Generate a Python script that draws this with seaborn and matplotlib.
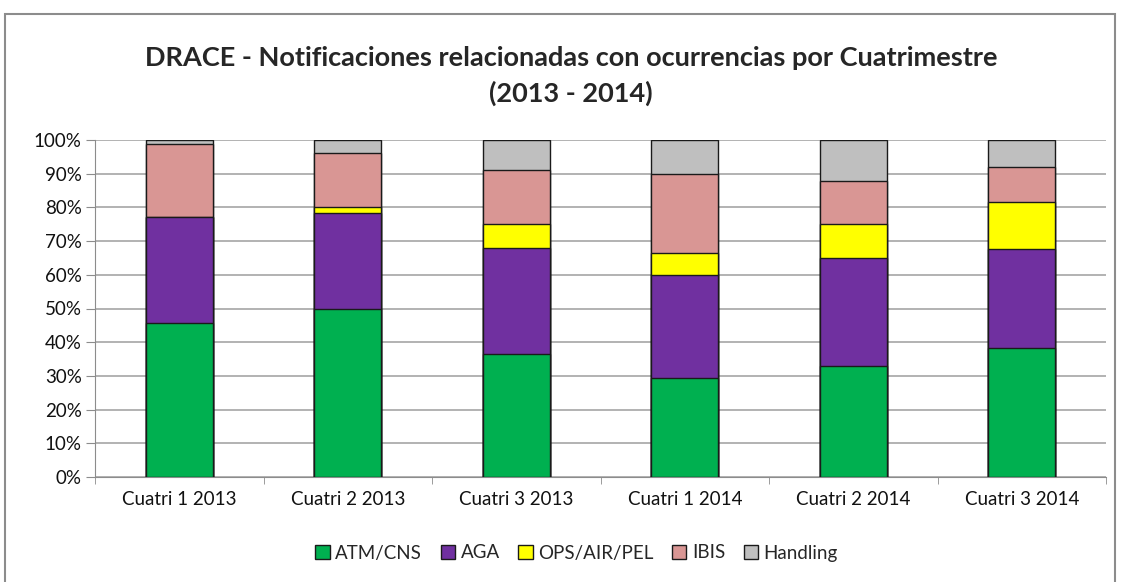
import numpy as np
import pandas as pd
import seaborn as sns
import matplotlib.pyplot as plt
from matplotlib.patches import Rectangle, Patch
from matplotlib.ticker import PercentFormatter, FixedLocator

periods = ["Cuatri 1 2013", "Cuatri 2 2013", "Cuatri 3 2013",
           "Cuatri 1 2014", "Cuatri 2 2014", "Cuatri 3 2014"]
series = ["ATM/CNS", "AGA", "OPS/AIR/PEL", "IBIS", "Handling"]

# share (%) of each category per period
atm_cns = [45.7, 49.8, 36.4, 29.3, 33.0, 38.4]
aga = [31.4, 28.4, 31.6, 30.6, 32.1, 29.3]
ops_air_pel = [0.0, 1.9, 7.2, 6.6, 10.1, 13.8]
ibis = [21.6, 16.0, 16.0, 23.5, 12.5, 10.5]
handling = [1.3, 3.9, 8.8, 10.0, 12.3, 8.0]

colors = ["#00B050", "#7030A0", "#FFFF00", "#D99694", "#BFBFBF"]

df = pd.DataFrame({"Periodo": periods, "ATM/CNS": atm_cns, "AGA": aga,
                   "OPS/AIR/PEL": ops_air_pel, "IBIS": ibis, "Handling": handling})
cum = df[series].cumsum(axis=1)
cum["Periodo"] = df["Periodo"]

sns.set_style("white")
plt.rcParams["font.family"] = ["Lato", "DejaVu Sans"]

fig = plt.figure(figsize=(11.22, 5.82), dpi=100)
ax = fig.add_axes([95 / 1122, 1 - 477 / 582, (1106 - 95) / 1122, (477 - 140) / 582])

# draw from the top of the stack down so lower segments overlay
for s, c in reversed(list(zip(series, colors))):
    sns.barplot(data=cum, x="Periodo", y=s, color=c, width=0.4,
                edgecolor="#1a1a1a", linewidth=1.0, saturation=1, ax=ax, zorder=3)

ax.set_ylim(0, 100)
ax.set_xlim(-0.5, 5.5)
ax.set_yticks(np.arange(0, 101, 10))
ax.yaxis.set_major_formatter(PercentFormatter(decimals=0))
ax.yaxis.grid(True, color="#a6a6a6", linewidth=1.2, zorder=0)
ax.set_axisbelow(True)
ax.set_xlabel("")
ax.set_ylabel("")
for sp in ["top", "right"]:
    ax.spines[sp].set_visible(False)
ax.spines["left"].set_color("#8c8c8c")
ax.spines["bottom"].set_color("#8c8c8c")
ax.tick_params(axis="y", left=True, length=6.5, color="#8c8c8c", labelsize=13.5,
               pad=3, labelcolor="#111111")
ax.tick_params(axis="x", length=0, labelsize=13.5, pad=10, labelcolor="#111111")
ax.xaxis.set_minor_locator(FixedLocator(np.arange(-0.5, 6, 1)))
ax.tick_params(axis="x", which="minor", bottom=True, length=5, color="#8c8c8c")

fig.text(0.509, 1 - 58 / 582, "DRACE - Notificaciones relacionadas con ocurrencias por Cuatrimestre",
         ha="center", va="center", fontsize=19.5, fontweight="bold")
fig.text(0.509, 1 - 93 / 582, "(2013 - 2014)", ha="center", va="center",
         fontsize=19.5, fontweight="bold")

handles = [Patch(facecolor=c, edgecolor="#1a1a1a", label=s) for s, c in zip(series, colors)]
fig.legend(handles=handles, loc="center", bbox_to_anchor=(0.514, 1 - 553 / 582), ncol=5,
           frameon=False, fontsize=13.5, handlelength=0.75, handleheight=0.75,
           handletextpad=0.3, columnspacing=1.0)

fig.patches.append(Rectangle((5 / 1122, -0.01), 1110 / 1122, 1 - 14 / 582 + 0.01,
                             transform=fig.transFigure, fill=False,
                             edgecolor="#8c8c8c", linewidth=1.5))

fig.savefig("out.png", dpi=100)
